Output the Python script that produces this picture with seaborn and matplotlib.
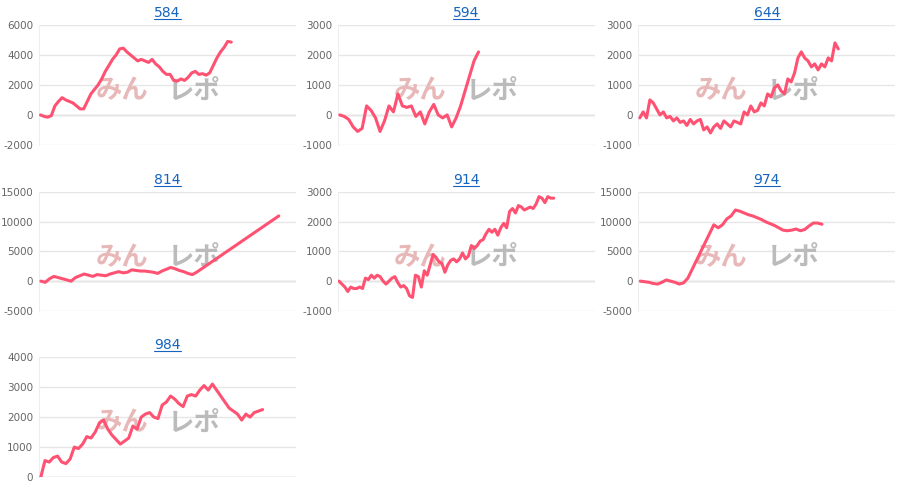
import matplotlib
matplotlib.use("Agg")
import matplotlib.pyplot as plt
import seaborn as sns
import pandas as pd

titles = ["584", "594", "644", "814", "914", "974", "984"]
s584 = [0,-100,-150,-50,600,900,1150,1000,900,800,600,400,400,900,1400,1700,2000,2400,2900,3300,3700,4000,4400,4450,4200,4000,3800,3600,3700,3600,3500,3700,3400,3200,2900,2700,2700,2300,2250,2400,2300,2500,2800,2900,2700,2750,2650,2800,3300,3800,4200,4500,4900,4850]
s594 = [0,-50,-150,-400,-550,-450,300,150,-100,-550,-200,300,100,700,300,250,300,-50,100,-300,100,350,0,-100,0,-400,-100,300,800,1300,1800,2100]
s644 = [-100,100,-100,500,400,200,0,100,-100,-50,-200,-100,-250,-200,-350,-150,-300,-200,-150,-500,-400,-600,-400,-300,-450,-200,-300,-400,-200,-250,-300,100,0,300,100,150,400,300,700,600,900,1000,800,700,1200,1100,1400,1900,2100,1900,1800,1600,1700,1500,1700,1600,1900,1800,2400,2200]
s814 = [0,-200,400,800,600,400,200,0,600,900,1200,1000,800,1100,1000,900,1200,1400,1600,1400,1500,1900,1800,1700,1700,1600,1500,1300,1700,2000,2300,2100,1800,1600,1300,1100,1500,2000,2500,3000,3500,4000,4500,5000,5500,6000,6500,7000,7500,8000,8500,9000,9500,10000,10500,11000]
s914 = [0,-100,-200,-350,-200,-250,-250,-200,-250,100,50,200,100,200,150,0,-100,0,100,150,-50,-200,-150,-250,-500,-550,200,150,-200,350,200,550,900,800,650,600,300,550,700,750,650,750,950,750,850,1200,1100,1200,1350,1400,1600,1750,1650,1750,1550,1800,1950,1800,2350,2450,2300,2550,2500,2400,2450,2500,2450,2600,2850,2800,2650,2850,2800,2800]
s974 = [0,-100,-200,-400,-500,-200,200,0,-200,-500,-300,500,2000,3500,5000,6500,8000,9500,9000,9500,10500,11000,12000,11800,11500,11200,11000,10700,10400,10000,9700,9400,9000,8600,8500,8600,8800,8500,8700,9300,9800,9800,9600]
s984 = [0,550,500,650,700,500,450,600,1000,950,1100,1350,1300,1500,1800,1900,1600,1400,1250,1100,1200,1300,1700,1600,2000,2100,2150,2000,1950,2400,2500,2700,2600,2450,2350,2700,2750,2700,2900,3050,2900,3100,2900,2700,2500,2300,2200,2100,1900,2100,2000,2150,2200,2250]
series = [s584, s594, s644, s814, s914, s974, s984]
xspan = [71, 57, 76, 59, 87, 59, 61]
yticks = [[-2000,0,2000,4000,6000],[-1000,0,1000,2000,3000],[-1000,0,1000,2000,3000],
          [-5000,0,5000,10000,15000],[-1000,0,1000,2000,3000],[-5000,0,5000,10000,15000],
          [0,1000,2000,3000,4000]]

sns.set_style("white")
plt.rcParams['font.family'] = ['DejaVu Sans', 'Noto Sans CJK JP']
fig = plt.figure(figsize=(9, 4.98), dpi=100)
lefts = [0.043, 0.375, 0.709]
rows = [(0.709, 0.241), (0.376, 0.238), (0.042, 0.241)]
for i, (t, s) in enumerate(zip(titles, series)):
    r, c = divmod(i, 3)
    ax = fig.add_axes([lefts[c], rows[r][0], 0.286, rows[r][1]])
    df = pd.DataFrame({"x": range(len(s)), "y": s})
    sns.lineplot(data=df, x="x", y="y", ax=ax, color="#ff5273", linewidth=2.2, zorder=3)
    ax.set_xlim(-0.5, xspan[i])
    ax.set_ylim(yticks[i][0], yticks[i][-1])
    ax.set_yticks(yticks[i])
    ax.set_yticklabels([str(v) for v in yticks[i]], fontsize=7.5, color="#666666")
    ax.set_xticks([])
    ax.set_xlabel(""); ax.set_ylabel("")
    ax.grid(axis="y", color="#e6e6e6", linewidth=1)
    ax.axhline(0, color="#c8c8c8", linewidth=1, zorder=0)
    for sp in ["top", "right", "bottom"]:
        ax.spines[sp].set_visible(False)
    ax.spines["left"].set_color("#eeeeee")
    ax.tick_params(axis="y", length=0, pad=4)
    ax.set_title(t, fontsize=10, color="#1565c0", pad=6)
    ax.text(0.22, 0.45, "みん", transform=ax.transAxes, fontsize=19, color="#e8b8b8",
            fontweight="bold", style="italic", family=["Noto Sans CJK JP"], va="center", zorder=1)
    ax.text(0.50, 0.45, "レポ", transform=ax.transAxes, fontsize=19, color="#bbbbbb",
            fontweight="bold", style="italic", family=["Noto Sans CJK JP"], va="center", zorder=1)
    fig.canvas.draw()
    bb = ax.title.get_window_extent().transformed(fig.transFigure.inverted())
    fig.add_artist(plt.Line2D([bb.x0, bb.x1], [bb.y0 + 0.002, bb.y0 + 0.002], color="#1565c0", linewidth=0.8))
fig.savefig("out.png", dpi=100)
